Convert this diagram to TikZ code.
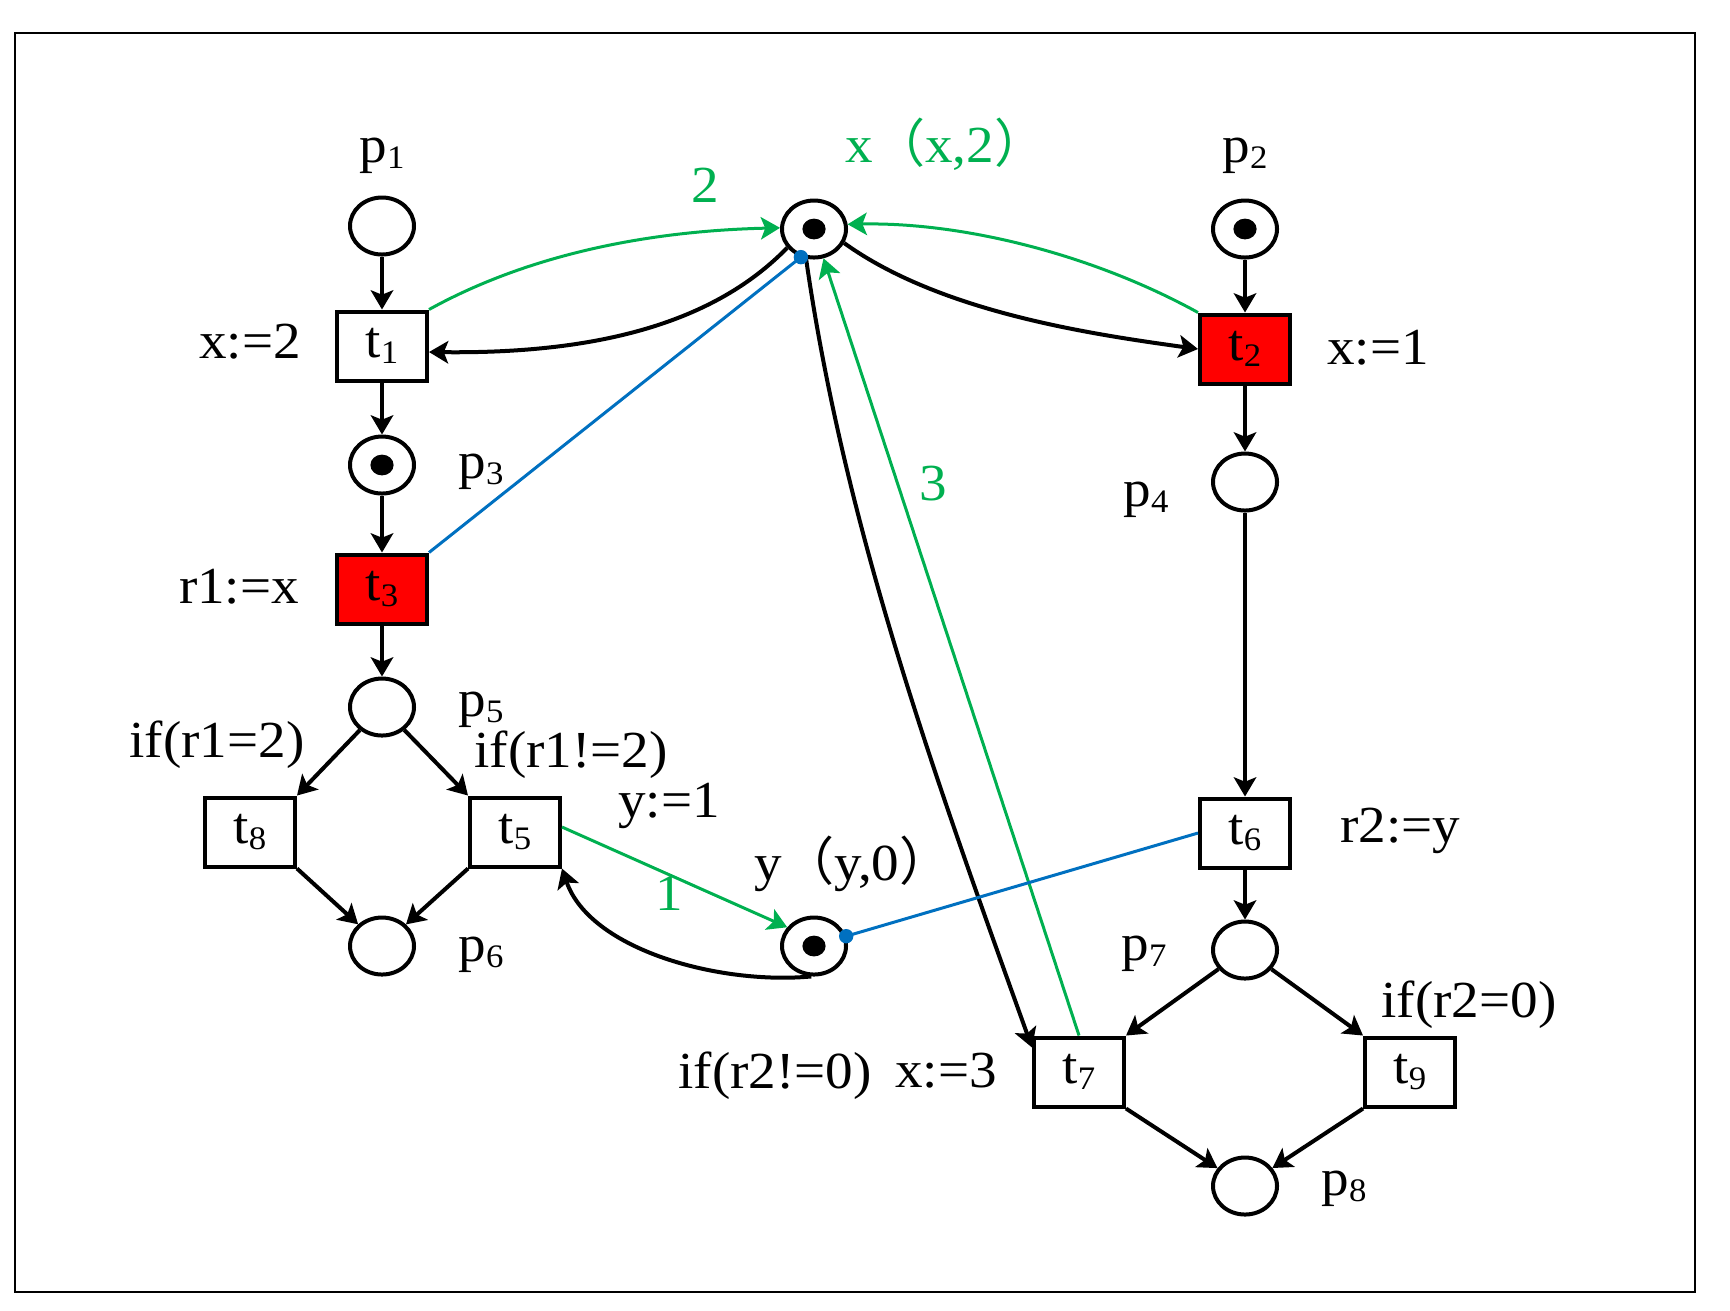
\documentclass[tikz,border=0pt]{standalone}
\usepackage{fontspec}
\setmainfont{Liberation Serif}[FakeStretch=1.06]
\newfontfamily\cjk{Noto Sans CJK SC}
\usetikzlibrary{shapes.geometric,arrows.meta,calc}
\definecolor{pngreen}{RGB}{0,176,80}
\definecolor{pnblue}{RGB}{0,112,192}
\definecolor{pnred}{RGB}{255,0,0}
\newcommand\pnfont{\fontsize{13}{15}\selectfont}
\newcommand\pnsub[1]{\raisebox{-1.5pt}{\fontsize{8.2}{8.2}\selectfont #1}}
\tikzset{
  place/.style={ellipse, draw, line width=1pt, minimum width=16pt, minimum height=14.25pt, inner sep=0pt},
  token/.style={ellipse, fill=black, minimum width=5.8pt, minimum height=5.2pt, inner sep=0pt},
  trans/.style={rectangle, draw, line width=1pt, minimum width=22.5pt, minimum height=17.25pt, inner sep=0pt, font=\pnfont},
  fired/.style={trans, fill=pnred},
  tip/.style={-{Stealth[length=4.8pt,width=5.6pt,inset=1.1pt]}},
  arc/.style={line width=1pt, tip},
  garc/.style={line width=0.75pt, draw=pngreen, tip},
  rdarc/.style={line width=0.75pt, draw=pnblue},
  bdot/.style={circle, fill=pnblue, minimum size=3.6pt, inner sep=0pt},
  lab/.style={anchor=base, inner sep=0pt, font=\pnfont},
  glab/.style={lab, text=pngreen},
}
\begin{document}
\begin{tikzpicture}[x=0.25pt,y=-0.25pt]
\useasboundingbox (0,0) rectangle (1730,1310);
\draw[line width=0.7pt] (15,33) rectangle (1695,1292);

% places
\node[place] (p1) at (382,226) {};
\node[place] (px) at (814,229) {};
\node[token] (pxt) at (px) {};
\node[place] (p2) at (1245,229) {};
\node[token] (p2t) at (p2) {};
\node[place] (p3) at (382,465) {};
\node[token] (p3t) at (p3) {};
\node[place] (p4) at (1245,482) {};
\node[place] (p5) at (382,707) {};
\node[place] (p6) at (382,946) {};
\node[place] (py) at (814,946) {};
\node[token] (pyt) at (py) {};
\node[place] (p7) at (1245,950) {};
\node[place] (p8) at (1245,1186) {};

% transitions
\node[trans] (t1) at (382,346) {t\pnsub{1}};
\node[fired] (t2) at (1245,349) {t\pnsub{2}};
\node[fired] (t3) at (382,589) {t\pnsub{3}};
\node[trans] (t5) at (515,832) {t\pnsub{5}};
\node[trans] (t8) at (250,832) {t\pnsub{8}};
\node[trans] (t6) at (1245,833) {t\pnsub{6}};
\node[trans] (t7) at (1079,1072) {t\pnsub{7}};
\node[trans] (t9) at (1410,1072) {t\pnsub{9}};

% labels
\node[lab] (lp1) at (382,162) {p\pnsub{1}};
\node[lab] (lp2) at (1245,162) {p\pnsub{2}};
\node[glab] (lx) at (946,162) {x{\cjk （}x,2{\cjk ）}};
\node[glab] (l2) at (705,202) {2};
\node[lab] (lx2) at (250,358) {x:=2};
\node[lab] (lx1) at (1378,364) {x:=1};
\node[lab] (lp3) at (481,478) {p\pnsub{3}};
\node[glab] (l3) at (933,500) {3};
\node[lab] (lp4) at (1146,506) {p\pnsub{4}};
\node[lab] (lr1) at (239,603) {r1:=x};
\node[lab] (lp5) at (481,716) {p\pnsub{5}};
\node[lab] (lif1) at (217,757) {if(r1=2)};
\node[lab] (lif2) at (571,767) {if(r1!=2)};
\node[lab] (ly1) at (669,817) {y:=1};
\node[lab] (lr2) at (1400,842) {r2:=y};
\node[lab] (ly) at (853,880) {y{\cjk （}y,0{\cjk ）}};
\node[glab] (l1) at (669,910) {1};
\node[lab] (lp6) at (481,961) {p\pnsub{6}};
\node[lab] (lp7) at (1144,960) {p\pnsub{7}};
\node[lab] (lif3) at (1469,1017) {if(r2=0)};
\node[lab] (lif4) at (775,1088) {if(r2!=0)};
\node[lab] (lx3) at (946,1087) {x:=3};
\node[lab] (lp8) at (1344,1195) {p\pnsub{8}};

% straight black arcs
\draw[arc] (p1) -- (t1);
\draw[arc] (t1) -- (p3);
\draw[arc] (p3) -- (t3);
\draw[arc] (t3) -- (p5);
\draw[arc] (p5) -- (t8.north east);
\draw[arc] (p5) -- (t5.north west);
\draw[arc] (t8.south east) -- (p6);
\draw[arc] (t5.south west) -- (p6);
\draw[arc] (p2) -- (t2);
\draw[arc] (t2) -- (p4);
\draw[arc] (p4) -- (t6);
\draw[arc] (t6) -- (p7);
\draw[arc] (p7) -- (t7.north east);
\draw[arc] (p7) -- (t9.north west);
\draw[arc] (t7.south east) -- (p8);
\draw[arc] (t9.south west) -- (p8);

% curved black arcs
\coordinate (t1in) at ($(t1.east)+(0,6)$);
\draw[arc] (px.215) .. controls (715,322) and (600,354) .. (t1in);
\draw[arc] (px.-25) .. controls (940,312) and (1090,334) .. (t2.west);
\coordinate (t7in) at ($(t7.north west)+(0,12)$);
\draw[arc] (px.-105) .. controls (845,530) and (938,786) .. (t7in);
\draw[arc] (py.-95) .. controls (720,985) and (590,950) .. (t5.south east);

% green arcs
\draw[garc] (t1.north east) .. controls (524,257) and (641,231) .. (px.178);
\draw[garc] (t2.north west) .. controls (1090,253) and (960,222) .. (px.8);
\draw[garc] (t7.north) -- (px.-72);
\coordinate (t5out) at ($(t5.east)+(0,-5)$);
\draw[garc] (t5out) -- (py.145);

% blue read arcs
\node[bdot] (bx) at (px.-115) {};
\draw[rdarc] (t3.north east) -- (bx.center);
\node[bdot] (by) at (py.17) {};
\draw[rdarc] (t6.west) -- (by.center);
\end{tikzpicture}
\end{document}
